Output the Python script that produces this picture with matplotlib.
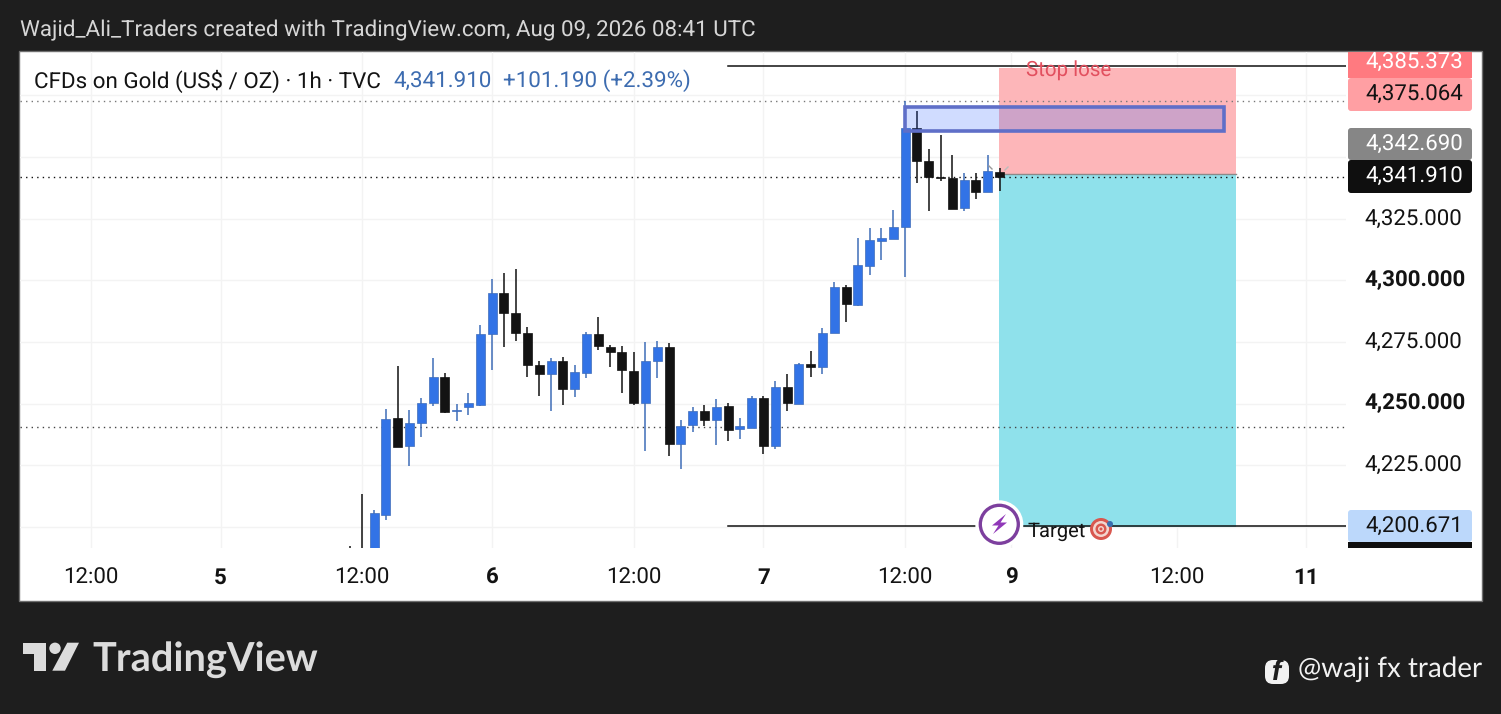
import matplotlib
matplotlib.use('Agg')
from matplotlib import pyplot as plt
from matplotlib.patches import Rectangle, Circle, Polygon, FancyBboxPatch
from matplotlib.transforms import ScaledTranslation

plt.rcParams['font.family'] = ['Roboto', 'DejaVu Sans']
plt.rcParams['text.hinting'] = 'no_hinting'

# hourly candles, first one sits at 12:00 on the 5th
bar_index = list(range(-1, 55))
opens = [4185, 4188, 4180, 4204.7, 4244.3, 4232.7, 4242.0, 4250.1, 4260.9, 4246.9, 4248.5,
         4249.6, 4278.1, 4295.0, 4286.9, 4278.8, 4265.8, 4261.9, 4267.4, 4255.8, 4262.3,
         4278.4, 4273.1, 4271.1, 4263.4, 4250.1, 4267.2, 4273.1, 4233.5, 4241.2, 4247.2,
         4243.2, 4249.2, 4239.6, 4240.3, 4252.4, 4232.7, 4256.9, 4250.0, 4266.2, 4264.7,
         4278.5, 4297.4, 4289.9, 4306.0, 4316.1, 4316.8, 4321.5, 4361.9, 4348.5, 4341.8,
         4341.6, 4329.2, 4340.7, 4335.7, 4344.0]
closes = [4182, 4180, 4205.8, 4243.9, 4232.3, 4242.3, 4250.4, 4260.9, 4246.6, 4247.6, 4250.1,
          4278.4, 4295.0, 4286.6, 4278.5, 4265.5, 4261.9, 4267.4, 4255.8, 4263.0, 4278.4,
          4273.2, 4270.8, 4263.5, 4250.1, 4267.4, 4273.1, 4233.5, 4241.1, 4247.2, 4243.2,
          4248.8, 4239.2, 4241.1, 4252.4, 4232.7, 4256.9, 4250.1, 4266.2, 4264.7, 4278.8,
          4297.4, 4290.3, 4306.4, 4316.4, 4317.2, 4321.7, 4361.9, 4348.3, 4341.8, 4341.4,
          4328.8, 4340.7, 4335.7, 4344.4, 4341.91]
highs = [4192.3, 4213.5, 4206.8, 4247.8, 4265.4, 4247.6, 4252.4, 4268.4, 4262.6, 4250.0, 4254.2,
         4282.0, 4300.7, 4303.1, 4304.7, 4281.2, 4267.4, 4268.6, 4269.1, 4265.8, 4279.2,
         4285.3, 4273.9, 4273.5, 4271.1, 4274.9, 4275.5, 4274.7, 4243.5, 4248.8, 4249.6,
         4252.0, 4250.3, 4244.3, 4253.2, 4253.2, 4259.3, 4262.2, 4266.5, 4271.5, 4280.7,
         4299.5, 4298.2, 4317.3, 4321.1, 4321.4, 4328.5, 4372.6, 4368.8, 4353.4, 4359.1,
         4351.0, 4343.5, 4343.5, 4351.0, 4345.7]
lows = [4180, 4175, 4178, 4202.7, 4232.3, 4224.6, 4236.6, 4248.9, 4246.4, 4242.8, 4245.3,
        4248.9, 4263.5, 4272.8, 4275.3, 4260.7, 4253.0, 4247.2, 4249.3, 4252.6, 4260.3,
        4271.6, 4264.7, 4254.2, 4249.3, 4230.7, 4260.3, 4229.0, 4223.4, 4238.4, 4240.8,
        4233.1, 4234.7, 4235.5, 4240.0, 4229.6, 4231.5, 4246.9, 4249.7, 4260.7, 4261.9,
        4278.5, 4283.0, 4289.6, 4302.2, 4308.3, 4316.8, 4301.4, 4339.3, 4328.0, 4340.1,
        4328.8, 4328.0, 4332.8, 4335.7, 4336.1]

price_ticks = [4225, 4250, 4275, 4300, 4325]
price_labels = ['4,225.000', '4,250.000', '4,275.000', '4,300.000', '4,325.000']
bold_prices = [4250, 4300]
grid_prices = [4200, 4225, 4250, 4275, 4300, 4325, 4350, 4375]
time_ticks = [-23, -12, 0, 11, 23, 34, 46, 55, 69, 80]
time_labels = ['12:00', '5', '12:00', '6', '12:00', '7', '12:00', '9', '12:00', '11']
bold_times = ['5', '6', '7', '9', '11']

last_price = 4341.91
stop_line = 4386.8
entry_price = 4343.2
target_line = 4200.3
zone_start, zone_end = 53.96, 74.04
box_start, box_end = 46, 73.03
box_low, box_high = 4360.4, 4370.3
line_start = 31.0
dotted_prices = [4372.6, last_price, 4240.5]
dotted_colors = ['#777777', '#111111', '#444444']

tags = [('4,375.064', 78, 111, '#ff9fa3', '#131313'),
        ('4,385.373', 46, 78, '#ff7a80', '#ffffff'),
        ('4,342.690', 128, 160, '#868686', '#ffffff'),
        ('4,341.910', 160, 193, '#0f0f0f', '#ffffff'),
        ('4,200.671', 510, 542, '#bcd8fb', '#131313')]

W, H = 1501, 714
figure = plt.figure(figsize=(W / 100, H / 100), dpi=100, facecolor='#1e1e1e')


def pixel_axes(z):
    a = figure.add_axes([0, 0, 1, 1], zorder=z)
    a.set_xlim(0, W)
    a.set_ylim(H, 0)
    a.axis('off')
    a.patch.set_alpha(0)
    return a


back = pixel_axes(0)
back.add_patch(Rectangle((19, 51), 1463, 550, fc='white', ec='#6f6f6f', lw=1))

# price pane, x is bar number and y is price
ax = figure.add_axes([20 / W, 1 - 548 / H, 1326 / W, 496 / H], zorder=1)
ax.patch.set_alpha(0)
ax.set_xlim(-29.0, 83.36)
ax.set_ylim(4191.5, 4392.6)
for s in ax.spines.values():
    s.set_visible(False)

for p in grid_prices:
    ax.axhline(p, color='#f3f3f3', lw=1, zorder=1)
for t in time_ticks:
    ax.axvline(t, color='#f3f3f3', lw=1, zorder=1)

ax.add_patch(Rectangle((zone_start, entry_price), zone_end - zone_start, stop_line - 0.6 - entry_price,
                       fc='#fdb6b9', ec='none', zorder=1.5))
ax.add_patch(Rectangle((zone_start, target_line - 0.3), zone_end - zone_start, entry_price - target_line + 0.3,
                       fc='#8fe1eb', ec='none', zorder=1.5))

for p, col in zip(dotted_prices, dotted_colors):
    ax.axhline(p, color=col, lw=1, ls=(0, (1, 3)), zorder=2)
ax.plot([line_start, 83.36], [stop_line, stop_line], color='#111111', lw=1.1, zorder=2)
ax.plot([line_start, 83.36], [target_line, target_line], color='#111111', lw=1.1, zorder=4)
ax.plot([zone_start, zone_end], [entry_price, entry_price], color='#8a8a8a', lw=1, zorder=2)

for i, o, c, h, l in zip(bar_index, opens, closes, highs, lows):
    up = c >= o
    ax.vlines(i, l, h, color='#3f6db8' if up else '#111111', lw=1.1, zorder=3)
    ax.bar(i, abs(c - o), bottom=min(o, c), width=0.76, color='#3273e6' if up else '#131313',
           edgecolor='#3f6db8' if up else '#131313', lw=0.5, zorder=3)

ax.add_patch(Rectangle((box_start, box_low), box_end - box_start, box_high - box_low,
                       fc=(0.16, 0.38, 1.0, 0.22), ec='#5f6fc8', lw=2.6, zorder=3.5))

ax.yaxis.tick_right()
ax.set_yticks(price_ticks)
ax.set_yticklabels(price_labels, fontsize=16, color='#131313')
ax.set_xticks(time_ticks)
ax.set_xticklabels(time_labels, fontsize=16, color='#131313')
for lab, t in zip(ax.get_xticklabels(), time_labels):
    if t in bold_times:
        lab.set_fontweight('bold')
ax.tick_params(axis='y', length=0, pad=13)
ax.tick_params(axis='x', length=0, pad=14)
# nudge price labels up, has to come after tick_params or the pad resets it
up_shift = ScaledTranslation(0, 0.025, figure.dpi_scale_trans)
for lab, p in zip(ax.get_yticklabels(), price_ticks):
    lab.set_transform(lab.get_transform() + up_shift)
    if p in bold_prices:
        lab.set_fontweight('bold')

top = pixel_axes(2)
for label, y0, y1, bg, fg in tags:
    if y0 < 52:
        top.add_patch(Rectangle((1348, 52), 124, y1 - 52, fc=bg, ec='none'))
    else:
        top.add_patch(FancyBboxPatch((1350, y0 + 2), 120, y1 - y0 - 4, boxstyle='round,pad=2,rounding_size=3',
                                     fc=bg, ec='none'))
    top.text(1463, (y0 + y1) / 2 - 0.5, label, ha='right', va='center', fontsize=16, color=fg)
top.add_patch(Rectangle((1348, 542), 124, 6, fc='#0f0f0f', ec='none'))

# header and legend
top.text(20, 30, 'Wajid_Ali_Traders created with TradingView.com, Aug 09, 2026 08:41 UTC',
         fontsize=16.1, color='#d6d6d6', va='center')
top.text(34, 81, 'CFDs on Gold (US$ / OZ) · 1h · TVC', fontsize=16.1, color='#131313', va='center')
top.text(393.5, 81, '4,341.910', fontsize=16.1, color='#3d6cb0', va='center')
top.text(503, 81, '+101.190 (+2.39%)', fontsize=16.1, color='#3d6cb0', va='center')
top.text(1026, 71, 'Stop lose', fontsize=14.8, color='#e2505f', va='center')
top.text(1027, 531, 'Target', fontsize=14.5, color='#131313', va='center')

# lightning badge
top.add_patch(Circle((999.3, 524.3), 24, fc='white', ec='none'))
top.add_patch(Circle((999.3, 524.3), 19, fc='white', ec='#7d3f9e', lw=2.4))
top.add_patch(Polygon([(1006, 514), (992, 525.5), (998.5, 525.5), (993, 534), (1007, 522.5), (1000.5, 522.5)],
                      fc='#9038b8', ec='none'))

# target emoji
for r, col in [(11, '#d9574f'), (8, '#f3d6cf'), (5.5, '#d9574f'), (3, '#f3d6cf'), (1.5, '#d9574f')]:
    top.add_patch(Circle((1101, 529), r, fc=col, ec='none'))
top.add_patch(Circle((1110, 524), 3, fc='#3a6fb0', ec='none'))

# little grey marks by the last candle
top.plot([989, 992], [166, 169], color='#999999', lw=1)
top.plot([1005, 1008], [170, 167], color='#bbbbbb', lw=1)

# TradingView logo
top.add_patch(Polygon([(22.7, 642.7), (46, 642.7), (46, 670.7), (34, 670.7), (34, 654), (22.7, 654)],
                      fc='#dcdcdc', ec='none'))
top.add_patch(Circle((55, 648.3), 5.7, fc='#dcdcdc', ec='none'))
top.add_patch(Polygon([(67.3, 642.7), (79, 642.7), (65, 670.7), (52.3, 670.7)], fc='#dcdcdc', ec='none'))
top.text(92, 660, 'TradingView', fontsize=28.6, fontweight='bold', color='#dcdcdc', va='center',
         family=['Lato', 'DejaVu Sans'])

# facebook handle
top.add_patch(FancyBboxPatch((1268, 663), 18, 18, boxstyle='round,pad=3,rounding_size=8', fc='#f2f2f2', ec='none'))
top.text(1277, 672, 'f', fontsize=20, fontweight='bold', fontstyle='italic', color='#1e1e1e', ha='center', va='center')
top.text(1482, 669, '@waji fx trader', fontsize=20, color='#f2f2f2', ha='right', va='center',
         family=['Lato', 'DejaVu Sans'])

plt.savefig('out.png', dpi=100, facecolor=figure.get_facecolor())
